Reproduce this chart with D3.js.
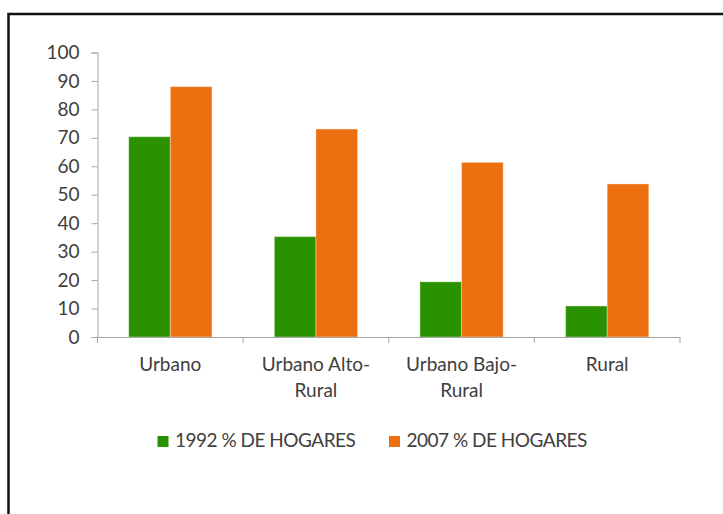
<!DOCTYPE html>
<html>
<head>
<meta charset="utf-8">
<script src="https://cdn.jsdelivr.net/npm/d3@7/dist/d3.min.js"></script>
<style>
  html, body { margin: 0; padding: 0; background: #fff; }
  svg text { font-family: Lato, "Open Sans", sans-serif; fill: #404040; }
</style>
</head>
<body>
<div id="chart"></div>
<script>
// datos
const categories = ["Urbano", "Urbano Alto-Rural", "Urbano Bajo-Rural", "Rural"];
const seriesNames = ["1992 % DE HOGARES", "2007 % DE HOGARES"];
const values1992 = [70.4, 35.3, 19.4, 10.9];
const values2007 = [88.0, 73.1, 61.4, 53.8];
const yTicks = [0, 10, 20, 30, 40, 50, 60, 70, 80, 90, 100];
const colors = ["#2a9200", "#ec700f"];

const width = 723, height = 514;
const margin = { left: 97.5, right: 43, top: 52.5, bottom: 177 };
const fontSize = 19;

const svg = d3.select('#chart')
    .append('svg')
    .attr('width', width)
    .attr('height', height);

// marco negro
svg.append('rect')
    .attr('x', 8.5).attr('y', 14)
    .attr('width', 760).attr('height', 560)
    .attr('fill', 'none')
    .attr('stroke', '#111')
    .attr('stroke-width', 2.5);

const x0 = d3.scaleBand()
    .domain(categories)
    .range([margin.left, width - margin.right])
    .paddingInner(0).paddingOuter(0);

const x1 = d3.scaleBand()
    .domain(seriesNames)
    .range([0, x0.bandwidth()])
    .paddingInner(0).paddingOuter(0.75);

const y = d3.scaleLinear()
    .domain([0, 100])
    .range([height - margin.bottom, margin.top]);

const color = d3.scaleOrdinal().domain(seriesNames).range(colors);

// barras
const groups = svg.append('g')
    .selectAll('g')
    .data(categories)
    .join('g')
    .attr('transform', d => `translate(${x0(d)},0)`);

groups.selectAll('rect')
    .data((d, i) => [
        { s: seriesNames[0], v: values1992[i] },
        { s: seriesNames[1], v: values2007[i] }
    ])
    .join('rect')
    .attr('x', d => x1(d.s))
    .attr('y', d => y(d.v))
    .attr('width', x1.bandwidth())
    .attr('height', d => y(0) - y(d.v))
    .attr('fill', d => color(d.s))
    .attr('stroke', '#fff')
    .attr('stroke-opacity', 0.35)
    .attr('stroke-width', 1);

// eje y
const yAxis = svg.append('g')
    .attr('transform', `translate(${margin.left},0)`)
    .call(d3.axisLeft(y).tickValues(yTicks).tickSize(6).tickPadding(12));
yAxis.select('.domain').attr('stroke', '#a6a6a6');
yAxis.selectAll('.tick line').attr('stroke', '#a6a6a6');
yAxis.selectAll('text').attr('font-size', fontSize).style('font-family', null).attr('fill', '#404040');

// eje x
const xAxis = svg.append('g')
    .attr('transform', `translate(0,${y(0)})`)
    .call(d3.axisBottom(x0).tickSize(0).tickPadding(34).tickFormat(''));
xAxis.select('.domain').attr('stroke', '#a6a6a6');

const bounds = categories.map(c => x0(c)).concat([x0(categories[categories.length - 1]) + x0.bandwidth()]);
xAxis.selectAll('line.bound')
    .data(bounds)
    .join('line')
    .attr('class', 'bound')
    .attr('x1', d => d).attr('x2', d => d)
    .attr('y1', 0).attr('y2', 6)
    .attr('stroke', '#a6a6a6');

// etiquetas en dos lineas (corte despues del guion)
xAxis.selectAll('text.cat')
    .data(categories)
    .join('text')
    .attr('class', 'cat')
    .attr('x', d => x0(d) + x0.bandwidth() / 2)
    .attr('y', 34)
    .attr('text-anchor', 'middle')
    .attr('font-size', fontSize)
    .each(function (d) {
        const parts = d.includes('-') ? [d.slice(0, d.indexOf('-') + 1), d.slice(d.indexOf('-') + 1)] : [d];
        d3.select(this).selectAll('tspan')
            .data(parts)
            .join('tspan')
            .attr('x', x0(d) + x0.bandwidth() / 2)
            .attr('dy', (p, i) => i === 0 ? 0 : 25.5)
            .text(p => p);
    });

// leyenda
const legendX = [157.5, 389];
const legend = svg.append('g')
    .selectAll('g')
    .data(seriesNames)
    .join('g')
    .attr('transform', (d, i) => `translate(${legendX[i]},436)`);

legend.append('rect')
    .attr('width', 11).attr('height', 11)
    .attr('fill', d => color(d));

legend.append('text')
    .attr('x', 17.5)
    .attr('y', 11)
    .attr('font-size', fontSize)
    .attr('letter-spacing', -0.5)
    .text(d => d);
</script>
</body>
</html>
